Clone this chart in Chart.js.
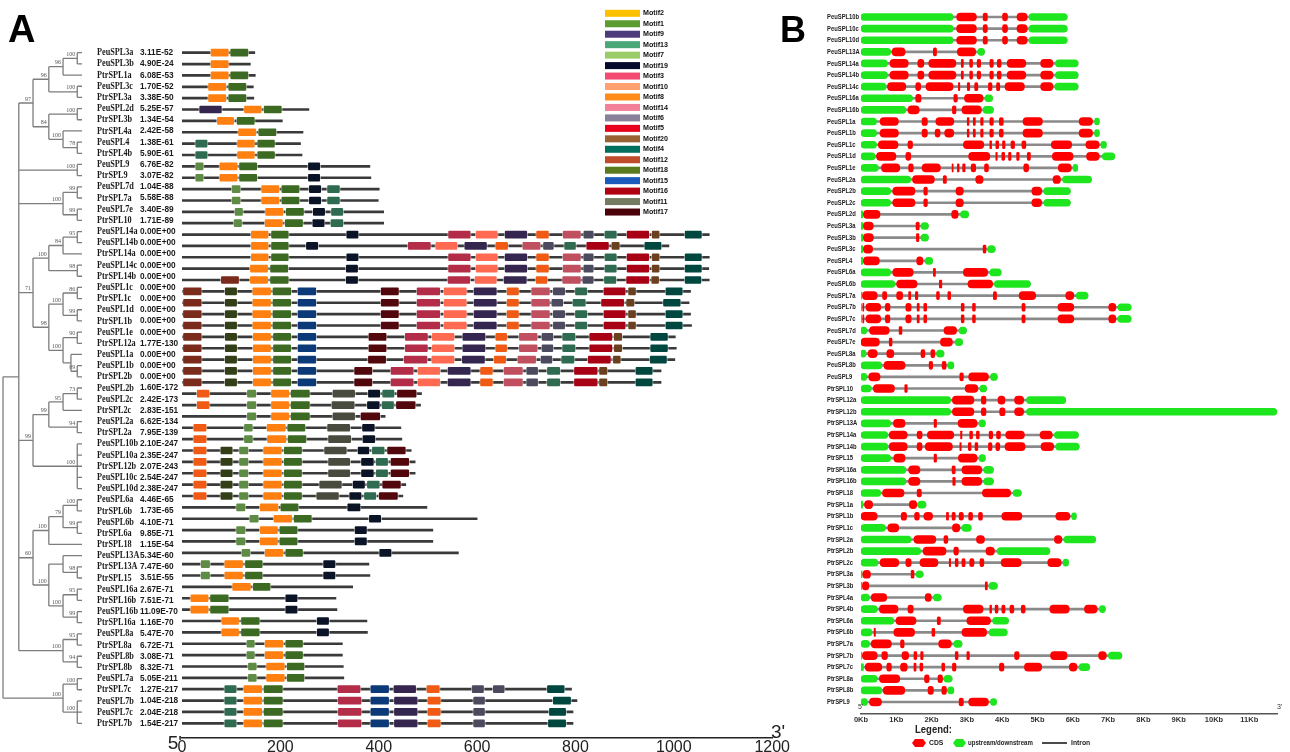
<!DOCTYPE html>
<html>
<head>
<meta charset="utf-8">
<script src="https://cdn.jsdelivr.net/npm/chart.js@4.4.0/dist/chart.umd.min.js"></script>
<style>
  html, body { margin: 0; padding: 0; background: #fff; width: 1290px; height: 752px; overflow: hidden; }
  #wrapA { position: absolute; left: 0; top: 0; width: 790px; height: 760px; }
  #wrapB { position: absolute; left: 770px; top: 0; width: 520px; height: 752px; }
</style>
</head>
<body>
<div id="wrapA"><canvas id="motifChart" width="790" height="760"></canvas></div>
<div id="wrapB"><canvas id="geneChart" width="520" height="752"></canvas></div>
<script>
// ---------- Panel A data ----------
// leaves of the tree, top to bottom
const treeLeaves = ['PeuSPL3a','PeuSPL3b','PtrSPL1a','PeuSPL3c','PtrSPL3a','PeuSPL2d','PtrSPL3b','PtrSPL4a','PeuSPL4','PtrSPL4b',
  'PeuSPL9','PtrSPL9','PeuSPL7d','PtrSPL7a','PeuSPL7e','PtrSPL10','PeuSPL14a','PeuSPL14b','PtrSPL14a','PeuSPL14c',
  'PtrSPL14b','PeuSPL1c','PtrSPL1c','PeuSPL1d','PtrSPL1b','PeuSPL1e','PtrSPL12a','PeuSPL1a','PeuSPL1b','PtrSPL2b',
  'PeuSPL2b','PeuSPL2c','PtrSPL2c','PeuSPL2a','PtrSPL2a','PeuSPL10b','PeuSPL10a','PtrSPL12b','PeuSPL10c','PeuSPL10d',
  'PeuSPL6a','PtrSPL6b','PeuSPL6b','PtrSPL6a','PtrSPL18','PeuSPL13A','PtrSPL13A','PtrSPL15','PeuSPL16a','PtrSPL16b',
  'PeuSPL16b','PtrSPL16a','PeuSPL8a','PtrSPL8a','PeuSPL8b','PtrSPL8b','PeuSPL7a','PtrSPL7c','PeuSPL7b','PeuSPL7c','PtrSPL7b'];

const eValues = ['3.11E-52','4.90E-24','6.08E-53','1.70E-52','3.38E-50','5.25E-57','1.34E-54','2.42E-58','1.38E-61','5.90E-61',
  '6.76E-82','3.07E-82','1.04E-88','5.58E-88','3.40E-89','1.71E-89','0.00E+00','0.00E+00','0.00E+00','0.00E+00',
  '0.00E+00','0.00E+00','0.00E+00','0.00E+00','0.00E+00','0.00E+00','1.77E-130','0.00E+00','0.00E+00','0.00E+00',
  '1.60E-172','2.42E-173','2.83E-151','6.62E-134','7.95E-139','2.10E-247','2.35E-247','2.07E-243','2.54E-247','2.38E-247',
  '4.46E-65','1.73E-65','4.10E-71','9.85E-71','1.15E-54','5.34E-60','7.47E-60','3.51E-55','2.67E-71','7.51E-71',
  '11.09E-70','1.16E-70','5.47E-70','6.72E-71','3.08E-71','8.32E-71','5.05E-211','1.27E-217','1.04E-218','2.04E-218','1.54E-217'];

// tree nodes: [id, depth (0 = root, 1 = tips), bootstrap, children...]
const treeNodes = [
  ['n1', 0.94, '100', 'PeuSPL3a', 'PeuSPL3b'],
  ['n2', 0.76, '96', 'n1', 'PtrSPL1a'],
  ['n3', 0.94, '100', 'PeuSPL3c', 'PtrSPL3a'],
  ['n4', 0.58, '96', 'n2', 'n3'],
  ['n5', 0.94, '100', 'PeuSPL2d', 'PtrSPL3b'],
  ['n6', 0.94, '78', 'PeuSPL4', 'PtrSPL4b'],
  ['n7', 0.76, '100', 'PtrSPL4a', 'n6'],
  ['n8', 0.58, '84', 'n5', 'n7'],
  ['n9', 0.38, '97', 'n4', 'n8'],
  ['n10', 0.94, '100', 'PeuSPL9', 'PtrSPL9'],
  ['n11', 0.94, '99', 'PeuSPL7d', 'PtrSPL7a'],
  ['n12', 0.94, '99', 'PeuSPL7e', 'PtrSPL10'],
  ['n13', 0.76, '100', 'n11', 'n12'],
  ['n14', 0.94, '95', 'PeuSPL14a', 'PeuSPL14b'],
  ['n15', 0.76, '84', 'n14', 'PtrSPL14a'],
  ['n16', 0.94, '98', 'PeuSPL14c', 'PtrSPL14b'],
  ['n17', 0.58, '100', 'n15', 'n16'],
  ['n18', 0.94, '86', 'PeuSPL1c', 'PtrSPL1c'],
  ['n19', 0.94, '99', 'PeuSPL1d', 'PtrSPL1b'],
  ['n20', 0.76, '100', 'n18', 'n19'],
  ['n21', 0.94, '90', 'PeuSPL1e', 'PtrSPL12a'],
  ['n22', 0.94, '89', 'PeuSPL1b', 'PtrSPL2b'],
  ['n23', 0.86, '', 'PeuSPL1a', 'n22'],
  ['n24', 0.76, '100', 'n21', 'n23'],
  ['n25', 0.58, '98', 'n20', 'n24'],
  ['n26', 0.38, '71', 'n17', 'n25'],
  ['n27', 0.94, '73', 'PeuSPL2b', 'PeuSPL2c'],
  ['n28', 0.76, '95', 'n27', 'PtrSPL2c'],
  ['n29', 0.94, '94', 'PeuSPL2a', 'PtrSPL2a'],
  ['n30', 0.58, '99', 'n28', 'n29'],
  ['n31', 0.94, '100', 'PeuSPL10b', 'PeuSPL10a', 'PtrSPL12b', 'PeuSPL10c', 'PeuSPL10d'],
  ['n32', 0.38, '99', 'n30', 'n31'],
  ['n33', 0.94, '100', 'PeuSPL6a', 'PtrSPL6b'],
  ['n34', 0.94, '99', 'PeuSPL6b', 'PtrSPL6a'],
  ['n35', 0.76, '79', 'n33', 'n34'],
  ['n36', 0.58, '100', 'n35', 'PtrSPL18'],
  ['n37', 0.94, '98', 'PtrSPL13A', 'PtrSPL15'],
  ['n38', 0.76, '', 'PeuSPL13A', 'n37'],
  ['n39', 0.94, '95', 'PeuSPL16a', 'PtrSPL16b'],
  ['n40', 0.94, '99', 'PeuSPL16b', 'PtrSPL16a'],
  ['n41', 0.76, '100', 'n39', 'n40'],
  ['n42', 0.58, '100', 'n38', 'n41'],
  ['n43', 0.38, '60', 'n36', 'n42'],
  ['n44', 0.94, '95', 'PeuSPL8a', 'PtrSPL8a'],
  ['n45', 0.94, '94', 'PeuSPL8b', 'PtrSPL8b'],
  ['n46', 0.76, '100', 'n44', 'n45'],
  ['n47', 0.20, '', 'n9', 'n10', 'n13', 'n26', 'n32', 'n43', 'n46'],
  ['n48', 0.94, '100', 'PeuSPL7a', 'PtrSPL7c'],
  ['n49', 0.94, '100', 'PeuSPL7b', 'PeuSPL7c', 'PtrSPL7b'],
  ['n50', 0.76, '100', 'n48', 'n49'],
  ['root', 0, '', 'n47', 'n50']
];

// rows of the motif diagram (one row fewer than the tree)
const motifGenes = treeLeaves.filter(g => g !== 'PeuSPL7a');

// protein lengths (aa)
const proteinLength = [148,139,149,145,146,258,204,246,241,244,
  382,384,401,399,410,410,1072,990,1072,1071,
  1072,1034,1031,1034,1036,1003,1005,1002,974,974,
  487,485,413,445,447,466,474,474,455,449,
  498,600,510,510,562,380,382,347,313,315,
  376,377,326,326,328,329,792,803,795,795];

// motif blocks per row: motif number, start, end, ...
const motifBlocks = [
  [8,57,96, 1,97,136],
  [8,57,96],
  [8,57,96, 1,97,136],
  [8,52,91, 1,93,132],
  [8,52,91, 1,93,132],
  [9,34,82, 8,125,163, 1,165,204],
  [8,70,107, 1,110,149],
  [8,113,152, 1,154,193],
  [13,26,53, 8,111,149, 1,152,190],
  [13,26,53, 8,111,149, 1,152,190],
  [7,26,45, 8,75,114, 1,115,154, 19,255,282],
  [7,26,45, 8,75,114, 1,115,154, 19,255,282],
  [7,100,120, 8,160,199, 1,201,240, 19,257,284, 13,294,322],
  [7,100,120, 8,160,199, 1,201,240, 19,257,284, 13,294,322],
  [7,106,125, 8,168,207, 1,210,249, 19,265,292, 13,302,329],
  [7,104,123, 8,167,206, 1,208,247, 19,264,291, 13,301,329],
  [8,139,177, 1,180,218, 19,333,360, 3,540,588, 10,596,643, 9,655,703, 5,719,747, 14,773,812, 6,815,838, 13,858,885, 16,903,951, 20,954,972, 4,1021,1058],
  [8,139,177, 1,180,218, 19,251,278, 3,458,507, 10,514,561, 9,573,621, 5,636,664, 14,691,730, 6,733,757, 13,776,802, 16,821,869, 20,872,891, 4,939,976],
  [8,139,177, 1,180,218, 19,333,360, 3,540,588, 10,596,643, 9,655,703, 5,719,747, 14,773,812, 6,815,838, 13,858,885, 16,903,951, 20,954,972, 4,1021,1058],
  [8,137,176, 1,178,217, 19,332,359, 3,540,588, 10,596,643, 9,655,703, 5,719,747, 14,773,812, 6,815,838, 13,858,885, 16,903,951, 20,954,972, 4,1021,1058],
  [12,78,117, 8,137,176, 1,178,218, 19,332,359, 3,539,587, 10,594,641, 9,653,702, 5,718,744, 14,772,812, 6,813,838, 13,857,884, 16,902,951, 20,953,971, 4,1021,1057],
  [12,1,41, 18,86,113, 8,142,182, 1,183,223, 15,234,274, 17,403,442, 3,476,526, 10,531,580, 9,592,641, 5,659,686, 14,709,749, 6,753,780, 13,798,825, 16,856,903, 20,906,924, 4,982,1019],
  [12,1,41, 18,86,113, 8,142,182, 1,183,223, 15,234,274, 17,403,442, 3,476,526, 10,531,580, 9,592,641, 5,659,686, 14,709,749, 6,750,776, 13,793,822, 16,851,900, 20,902,921, 4,977,1015],
  [12,1,41, 18,86,113, 8,142,182, 1,183,223, 15,234,274, 17,403,442, 3,476,526, 10,531,580, 9,592,641, 5,659,686, 14,709,749, 6,753,780, 13,798,825, 16,856,903, 20,906,924, 4,982,1019],
  [12,1,41, 18,86,113, 8,142,182, 1,183,223, 15,234,274, 17,403,442, 3,476,526, 10,531,580, 9,592,641, 5,659,686, 14,709,749, 6,753,780, 13,798,825, 16,856,903, 20,906,924, 4,982,1019],
  [12,1,41, 18,86,113, 8,143,182, 1,184,223, 15,234,274, 17,378,417, 3,452,501, 10,507,555, 9,569,618, 5,636,662, 14,684,724, 6,730,756, 13,772,801, 16,827,876, 20,877,896, 4,951,989],
  [12,1,41, 18,86,113, 8,143,182, 1,184,223, 15,234,274, 17,378,417, 3,452,501, 10,507,555, 9,569,618, 5,636,662, 14,684,724, 6,730,756, 13,772,801, 16,827,876, 20,877,896, 4,951,989],
  [12,1,41, 18,86,113, 8,143,182, 1,184,223, 15,234,274, 17,377,416, 3,450,500, 10,506,555, 9,568,617, 5,633,660, 14,681,721, 6,728,754, 13,770,799, 16,824,873, 20,875,893, 4,950,987],
  [12,1,41, 18,86,113, 8,143,182, 1,184,223, 15,234,274, 17,349,388, 3,423,472, 10,478,526, 9,539,588, 5,605,633, 14,653,694, 6,699,725, 13,741,770, 16,796,846, 20,847,866, 4,921,958],
  [12,1,41, 18,86,113, 8,143,182, 1,184,223, 15,234,274, 17,349,388, 3,423,472, 10,478,526, 9,539,588, 5,605,633, 14,653,694, 6,699,725, 13,741,770, 16,796,846, 20,847,866, 4,921,958],
  [5,29,57, 7,131,152, 8,180,219, 1,220,261, 11,305,353, 19,377,404, 13,406,433, 17,436,478],
  [5,29,57, 7,131,152, 8,180,219, 1,220,261, 11,303,352, 19,375,403, 13,405,432, 17,434,476],
  [7,131,152, 8,180,219, 1,220,261, 11,305,353, 17,362,404],
  [5,22,51, 7,125,145, 8,171,212, 1,213,252, 11,294,343, 19,365,393],
  [5,22,51, 7,125,145, 8,172,213, 1,214,254, 11,296,345, 19,366,394],
  [5,22,51, 18,77,104, 7,115,136, 8,164,204, 1,206,245, 11,288,336, 19,356,382, 13,385,413, 17,416,456],
  [5,22,51, 18,77,104, 7,115,136, 8,164,204, 1,206,245, 11,296,343, 19,363,391, 13,393,420, 17,423,463],
  [5,22,51, 18,77,104, 7,115,136, 8,164,204, 1,206,245, 11,296,343, 19,363,391, 13,393,420, 17,423,463],
  [5,22,51, 18,77,104, 7,115,136, 8,164,204, 1,206,245, 11,278,326, 19,346,373, 13,375,403, 17,406,446],
  [5,22,51, 18,77,104, 7,115,136, 8,164,204, 1,206,245, 11,272,320, 19,339,366, 13,369,396, 17,399,440],
  [7,109,130, 8,157,197, 1,199,238, 19,335,364],
  [7,136,157, 8,185,225, 1,226,265, 19,379,406],
  [7,109,130, 8,157,196, 1,197,236, 19,350,377],
  [7,109,130, 8,157,196, 1,197,236, 19,350,377],
  [7,120,140, 8,167,207, 1,209,247, 19,400,427],
  [7,37,58, 8,85,125, 1,127,165, 19,286,313],
  [7,37,58, 8,85,125, 1,127,165, 19,286,313],
  [8,101,141, 1,143,181],
  [8,16,55, 1,56,96, 19,209,236],
  [8,16,55, 1,56,96, 19,209,236],
  [8,79,117, 1,119,159, 19,273,300],
  [8,79,117, 1,119,159, 19,273,300],
  [7,130,149, 8,167,207, 1,209,247],
  [7,130,149, 8,167,207, 1,209,247],
  [7,133,153, 8,170,210, 1,212,250],
  [7,133,153, 8,170,210, 1,212,250],
  [13,85,112, 8,124,164, 1,165,206, 3,315,364, 15,382,422, 9,429,477, 5,496,525, 6,588,615, 6,631,657, 4,741,779],
  [13,85,112, 8,124,164, 1,165,206, 3,316,366, 15,382,422, 9,430,480, 5,498,527, 6,591,617, 4,753,792],
  [13,85,112, 8,124,164, 1,165,206, 3,316,366, 15,382,422, 9,430,480, 5,498,527, 6,591,617, 4,745,782],
  [13,85,112, 8,124,164, 1,165,206, 3,316,366, 15,382,422, 9,430,480, 5,498,527, 6,591,617, 4,743,782]
];

const legendOrder = [2,1,9,13,7,19,3,10,8,14,6,5,20,4,12,18,15,16,11,17];
const axisTicksA = [0, 200, 400, 600, 800, 1000, 1200];

// ---------- Panel B data ----------
const structGenes = ['PeuSPL10b','PeuSPL10c','PeuSPL10d','PeuSPL13A','PeuSPL14a','PeuSPL14b','PeuSPL14c','PeuSPL16a','PeuSPL16b','PeuSPL1a',
  'PeuSPL1b','PeuSPL1c','PeuSPL1d','PeuSPL1e','PeuSPL2a','PeuSPL2b','PeuSPL2c','PeuSPL2d','PeuSPL3a','PeuSPL3b',
  'PeuSPL3c','PeuSPL4','PeuSPL6a','PeuSPL6b','PeuSPL7a','PeuSPL7b','PeuSPL7c','PeuSPL7d','PeuSPL7e','PeuSPL8a',
  'PeuSPL8b','PeuSPL9','PtrSPL10','PtrSPL12a','PtrSPL12b','PtrSPL13A','PtrSPL14a','PtrSPL14b','PtrSPL15','PtrSPL16a',
  'PtrSPL16b','PtrSPL18','PtrSPL1a','PtrSPL1b','PtrSPL1c','PtrSPL2a','PtrSPL2b','PtrSPL2c','PtrSPL3a','PtrSPL3b',
  'PtrSPL4a','PtrSPL4b','PtrSPL6a','PtrSPL6b','PtrSPL7a','PtrSPL7b','PtrSPL7c','PtrSPL8a','PtrSPL8b','PtrSPL9'];

// upstream/downstream parts (Kb): gene, start, end, ...
const utrParts = [
  ['PeuSPL10b',0,2.61,4.76,5.84], ['PeuSPL10c',0,2.61,4.76,5.84], ['PeuSPL10d',0,2.61,4.76,5.84],
  ['PeuSPL13A',0,0.84,3.31,3.50], ['PeuSPL14a',0,0.75,5.51,6.15], ['PeuSPL14b',0,0.75,5.51,6.15],
  ['PeuSPL14c',0,0.71,5.49,6.15], ['PeuSPL16a',0,1.46,3.51,3.73], ['PeuSPL16b',0,1.27,3.46,3.75],
  ['PeuSPL1a',0,0.44,6.62,6.75], ['PeuSPL1b',0,0.44,6.62,6.75], ['PeuSPL1c',0,0.44,6.80,6.95],
  ['PeuSPL1d',0,0.40,6.84,7.19], ['PeuSPL1e',0,0.49,6.01,6.14], ['PeuSPL2a',0,1.41,5.71,6.53],
  ['PeuSPL2b',0,0.84,5.18,5.93], ['PeuSPL2c',0,0.84,5.18,5.93], ['PeuSPL2d',0,0.05,2.82,3.05],
  ['PeuSPL3a',0,0.06,1.70,1.91], ['PeuSPL3b',0,0.06,1.70,1.91], ['PeuSPL3c',0,0.05,3.59,3.80],
  ['PeuSPL4',0,0.05,1.82,2.03], ['PeuSPL6a',0,0.84,3.65,3.97], ['PeuSPL6b',0,0.96,3.78,4.80],
  ['PeuSPL7a',0,0.02,6.10,6.43], ['PeuSPL7b',0,0.02,7.28,7.65], ['PeuSPL7c',0,0.02,7.28,7.65],
  ['PeuSPL7d',0,0.16,2.78,2.99], ['PeuSPL7e',2.67,2.88], ['PeuSPL8a',0,0.14,2.14,2.35],
  ['PeuSPL8b',0,0.59,2.46,2.63], ['PeuSPL9',0,0.16,3.67,3.86], ['PtrSPL10',0,0.29,3.37,3.56],
  ['PtrSPL12a',0,2.54,4.69,5.80], ['PtrSPL12b',0,2.54,4.69,11.78], ['PtrSPL13A',0,0.84,3.35,3.52],
  ['PtrSPL14a',0,0.76,5.48,6.16], ['PtrSPL14b',0,0.76,5.52,6.18], ['PtrSPL15',0,0.84,3.35,3.52],
  ['PtrSPL16a',0,1.27,3.48,3.75], ['PtrSPL16b',0,1.27,3.48,3.75], ['PtrSPL18',0,0.56,4.31,4.54],
  ['PtrSPL1a',0,0.05,1.61,1.84], ['PtrSPL1b',5.97,6.10], ['PtrSPL1c',0,0.69,2.86,3.12],
  ['PtrSPL2a',0,1.42,5.75,6.65], ['PtrSPL2b',0,1.69,3.86,5.35], ['PtrSPL2c',0,0.48,5.73,5.88],
  ['PtrSPL3a',0,0.03,1.56,1.76], ['PtrSPL3b',0,0.02,3.63,3.86], ['PtrSPL4a',0,0.24,2.05,2.27],
  ['PtrSPL4b',0,0.46,6.76,6.92], ['PtrSPL6a',0,0.93,3.73,4.18], ['PtrSPL6b',0,0.31,3.63,4.14],
  ['PtrSPL7a',0,0.24,2.63,2.86], ['PtrSPL7b',0,0.02,7.01,7.39], ['PtrSPL7c',0,0.07,6.18,6.48],
  ['PtrSPL8a',0,0.46,2.35,2.58], ['PtrSPL8b',0,0.59,2.46,2.63], ['PtrSPL9',0,0.18,3.67,3.84]
];

// CDS parts (Kb): gene, start, end, ...
const cdsParts = [
  ['PeuSPL10b',2.71,3.27,3.46,3.58,4.01,4.15,4.42,4.71],
  ['PeuSPL10c',2.71,3.27,3.46,3.58,4.01,4.15,4.42,4.71],
  ['PeuSPL10d',2.71,3.27,3.46,3.58,4.01,4.15,4.42,4.71],
  ['PeuSPL13A',0.88,1.25,2.05,2.14,2.73,3.25],
  ['PeuSPL14a',0.82,1.34,1.61,1.78,1.92,2.69,2.84,2.90,3.08,3.16,3.29,3.39,3.65,3.75,3.86,3.97,4.14,4.67,5.09,5.44],
  ['PeuSPL14b',0.82,1.34,1.61,1.78,1.92,2.69,2.84,2.90,3.08,3.16,3.29,3.39,3.65,3.75,3.86,3.97,4.14,4.67,5.09,5.44],
  ['PeuSPL14c',0.75,1.27,1.55,1.69,1.84,2.61,2.76,2.80,3.01,3.08,3.22,3.31,3.61,3.71,3.84,3.93,4.08,4.63,5.09,5.44],
  ['PeuSPL16a',1.55,1.70,2.63,2.73,2.93,3.46],
  ['PeuSPL16b',1.33,1.65,2.59,2.69,2.86,3.41],
  ['PeuSPL1a',0.54,1.06,1.73,1.88,2.12,2.63,3.01,3.06,3.18,3.24,3.39,3.46,3.65,3.75,3.92,4.03,4.59,5.14,6.18,6.56],
  ['PeuSPL1b',0.54,1.06,1.73,1.88,2.10,2.24,2.37,2.63,3.01,3.06,3.18,3.24,3.39,3.46,3.65,3.75,3.92,4.03,4.59,5.14,6.18,6.56],
  ['PeuSPL1c',0.49,1.05,1.33,1.46,2.90,3.48,3.65,3.70,3.82,3.90,4.01,4.08,4.25,4.35,4.56,4.67,5.39,5.97,6.37,6.75],
  ['PeuSPL1d',0.44,0.99,1.27,1.41,3.05,3.65,3.82,3.86,3.99,4.07,4.18,4.25,4.41,4.48,4.71,4.80,5.42,6.01,6.39,6.75],
  ['PeuSPL1e',0.58,1.10,1.35,1.48,1.73,2.25,2.58,2.61,2.73,2.78,2.88,2.95,3.12,3.25,3.50,3.61,4.61,4.75,5.59,5.96],
  ['PeuSPL2a',1.46,2.08,2.33,2.42,3.25,3.46,5.44,5.65],
  ['PeuSPL2b',0.90,1.53,1.78,1.88,2.69,2.90,4.84,5.12],
  ['PeuSPL2c',0.90,1.53,1.78,1.88,2.69,2.90,4.84,5.12],
  ['PeuSPL2d',0.07,0.54,2.57,2.75],
  ['PeuSPL3a',0.07,0.35,1.56,1.65],
  ['PeuSPL3b',0.07,0.35,1.57,1.64],
  ['PeuSPL3c',0.07,0.33,3.46,3.54],
  ['PeuSPL4',0.07,0.52,1.58,1.75],
  ['PeuSPL6a',0.90,1.48,2.05,2.11,2.90,3.59],
  ['PeuSPL6b',1.01,1.59,2.22,2.29,3.03,3.73],
  ['PeuSPL7a',0.04,0.46,0.61,0.73,1.01,1.18,1.35,1.41,1.54,1.61,2.14,2.22,2.46,2.54,3.75,3.84,4.48,4.95,5.80,6.03],
  ['PeuSPL7b',0.05,0.08,0.14,0.56,0.69,0.82,1.27,1.42,1.59,1.65,1.78,1.86,2.84,2.92,3.16,3.24,4.56,4.65,5.58,6.03,7.02,7.22],
  ['PeuSPL7c',0.05,0.08,0.14,0.56,0.69,0.82,1.27,1.42,1.59,1.65,1.78,1.86,2.84,2.92,3.16,3.24,4.56,4.65,5.58,6.03,7.02,7.22],
  ['PeuSPL7d',0.24,0.80,1.08,1.16,2.35,2.71],
  ['PeuSPL7e',0,0.52,0.80,0.88,2.25,2.59],
  ['PeuSPL8a',0.20,0.46,0.73,0.93,1.70,1.81,1.98,2.09],
  ['PeuSPL8b',0.65,1.25,1.93,2.03,2.30,2.41],
  ['PeuSPL9',0.22,0.54,2.80,2.90,3.05,3.61],
  ['PtrSPL10',0.35,0.95,1.24,1.31,2.95,3.31],
  ['PtrSPL12a',2.59,3.20,3.41,3.54,3.88,4.08,4.35,4.61],
  ['PtrSPL12b',2.59,3.20,3.41,3.54,3.93,4.08,4.35,4.61],
  ['PtrSPL13A',0.92,1.25,2.07,2.14,2.75,3.29],
  ['PtrSPL14a',0.80,1.31,1.59,1.73,1.88,2.63,2.82,2.86,3.08,3.16,3.27,3.35,3.63,3.73,3.84,3.95,4.10,4.63,5.07,5.42],
  ['PtrSPL14b',0.80,1.31,1.59,1.73,1.82,2.59,2.80,2.84,3.04,3.12,3.23,3.31,3.61,3.71,3.82,3.93,4.08,4.65,5.10,5.46],
  ['PtrSPL15',0.93,1.25,2.07,2.14,2.76,3.29],
  ['PtrSPL16a',1.35,1.67,2.58,2.67,2.86,3.42],
  ['PtrSPL16b',1.35,1.67,2.60,2.67,2.86,3.42],
  ['PtrSPL18',0.61,1.22,1.59,1.71,3.44,4.24],
  ['PtrSPL1a',0.10,0.33,1.37,1.58],
  ['PtrSPL1b',0,0.46,1.14,1.29,1.52,1.65,1.78,2.03,2.42,2.48,2.58,2.67,2.78,2.90,3.05,3.16,3.33,3.44,3.99,4.56,5.52,5.92],
  ['PtrSPL1c',0.76,1.07,2.59,2.80],
  ['PtrSPL2a',1.50,2.12,2.35,2.46,3.27,3.50,5.48,5.69],
  ['PtrSPL2b',1.76,2.41,2.63,2.76,3.54,3.78],
  ['PtrSPL2c',0.54,1.07,1.27,1.42,1.67,2.18,2.50,2.54,2.67,2.75,2.86,2.95,3.08,3.20,3.37,3.48,3.97,4.54,5.29,5.67],
  ['PtrSPL3a',0.05,0.27,1.42,1.50],
  ['PtrSPL3b',0.04,0.22,3.52,3.58],
  ['PtrSPL4a',0.29,0.73,1.82,1.99],
  ['PtrSPL4b',0.52,1.05,1.33,1.48,2.90,3.46,3.65,3.70,3.80,3.88,3.99,4.08,4.22,4.33,4.54,4.65,5.35,5.90,6.33,6.69],
  ['PtrSPL6a',0.99,1.56,2.16,2.25,3.00,3.67],
  ['PtrSPL6b',0.37,0.41,0.93,1.52,2.01,2.09,2.86,3.56],
  ['PtrSPL7a',0.29,0.86,1.12,1.22,2.20,2.56],
  ['PtrSPL7b',0.04,0.46,0.59,0.75,1.16,1.35,1.50,1.58,1.69,1.76,2.67,2.75,3.00,3.07,4.35,4.48,5.37,5.84,6.73,6.95],
  ['PtrSPL7c',0.12,0.59,0.73,0.86,1.12,1.31,1.50,1.56,1.67,1.75,2.29,2.37,2.59,2.69,3.92,4.05,4.63,5.12,5.90,6.12],
  ['PtrSPL8a',0.52,1.10,1.80,1.93,2.18,2.31],
  ['PtrSPL8b',0.63,1.24,1.90,2.05,2.29,2.42],
  ['PtrSPL9',0.24,0.58,2.78,2.90,3.05,3.61]
];

// ---------- styles ----------
const blockColor = {
  Motif1: '#3d6a22', Motif2: '#ffc000', Motif3: '#b32d48', Motif4: '#00473f', Motif5: '#f05a14',
  Motif6: '#4b4a5f', Motif7: '#5f8c45', Motif8: '#ff8011', Motif9: '#34264e', Motif10: '#ff6b52',
  Motif11: '#4a4b3f', Motif12: '#7a2b1c', Motif13: '#2e6b50', Motif14: '#c0505f', Motif15: '#0c3a78',
  Motif16: '#a80015', Motif17: '#52070c', Motif18: '#333f16', Motif19: '#0b1326', Motif20: '#6a401f'
};
const legendColor = {
  Motif2: '#ffc000', Motif1: '#5c9c30', Motif9: '#4e3b7c', Motif13: '#4aa878', Motif7: '#9ccc6a',
  Motif19: '#050a2a', Motif3: '#f24a70', Motif10: '#ffa070', Motif8: '#ff8c1a', Motif14: '#f28098',
  Motif6: '#8a8099', Motif5: '#e8001c', Motif20: '#9a6232', Motif4: '#00705e', Motif12: '#c04a2c',
  Motif18: '#5a7a20', Motif15: '#1a5abc', Motif16: '#b00012', Motif11: '#737c62', Motif17: '#4a0008'
};
const NARROW = "'Liberation Sans Narrow', 'Liberation Sans', Arial, sans-serif";

function drawText(ctx, txt, x, y, font, color, align, sx) {
  ctx.save();
  ctx.font = font;
  ctx.fillStyle = color;
  ctx.textAlign = align || 'left';
  ctx.textBaseline = 'middle';
  ctx.translate(x, y);
  ctx.scale(sx || 1, 1);
  ctx.fillText(txt, 0, 0);
  ctx.restore();
}

// row placement helpers (top/bottom of plot area and first/last row centre, px)
function rowRange(n, areaTop, areaBottom, firstPx, lastPx) {
  const step = (lastPx - firstPx) / (n - 1);
  const min = -(firstPx - areaTop) / step;
  return { min: min, max: min + (areaBottom - areaTop) / step };
}

// ---------- Panel A chart ----------
const A_TOP = 47, A_BOTTOM = 738;
const motifRange = rowRange(motifGenes.length, A_TOP, A_BOTTOM, 52.7, 723.3);
const leafRange = rowRange(treeLeaves.length, A_TOP, A_BOTTOM, 52.7, 723.3);

const motifData = {};
motifBlocks.forEach((blocks, row) => {
  for (let k = 0; k < blocks.length; k += 3) {
    const id = 'Motif' + blocks[k];
    (motifData[id] = motifData[id] || []).push({ x: [blocks[k + 1], blocks[k + 2]], y: row });
  }
});

const datasetsA = [{
  label: 'protein',
  data: proteinLength.map((len, i) => ({ x: [0, len], y: i })),
  backgroundColor: '#3a3a3a',
  barThickness: 2,
  borderWidth: 0,
  order: 10,
  xAxisID: 'x', yAxisID: 'ym'
}].concat(Object.keys(motifData).map(id => ({
  label: id,
  data: motifData[id],
  backgroundColor: blockColor[id],
  borderColor: 'rgba(255,255,255,0.55)',
  borderWidth: 1,
  borderRadius: 2,
  borderSkipped: false,
  barThickness: 9,
  order: 0,
  xAxisID: 'x', yAxisID: 'ym'
})));

const treePlugin = {
  id: 'treeAndLabels',
  afterDraw(chart) {
    const ctx = chart.ctx;
    const yl = chart.scales.yl;
    const TREE_X0 = 3, TIP_X = 82;
    const pos = {};
    treeLeaves.forEach((name, i) => { pos[name] = { x: TIP_X, y: yl.getPixelForValue(i) }; });

    ctx.save();
    ctx.strokeStyle = '#7d7d7d';
    ctx.lineWidth = 1.3;
    treeNodes.forEach(([id, depth, bs, ...kids]) => {
      const x = TREE_X0 + depth * (TIP_X - TREE_X0);
      const y0 = pos[kids[0]].y, y1 = pos[kids[kids.length - 1]].y;
      pos[id] = { x: x, y: (y0 + y1) / 2 };
      ctx.beginPath();
      ctx.moveTo(x, y0); ctx.lineTo(x, y1);
      kids.forEach(k => { ctx.moveTo(x, pos[k].y); ctx.lineTo(pos[k].x, pos[k].y); });
      ctx.stroke();
      if (bs) drawText(ctx, bs, x - 2, pos[id].y - 4, '6px "Liberation Serif"', '#555', 'right');
    });
    ctx.restore();

    // gene names and E-values
    treeLeaves.forEach((name, i) => {
      const y = yl.getPixelForValue(i);
      drawText(ctx, name, 97, y, 'bold 10px "Liberation Serif"', '#1a1a1a', 'left', 0.82);
      drawText(ctx, eValues[i], 140, y, 'bold 9px "Liberation Sans"', '#1a1a1a', 'left', 0.92);
    });

    // motif legend
    legendOrder.forEach((m, i) => {
      const id = 'Motif' + m;
      const y = 13.3 + i * 10.46;
      ctx.fillStyle = legendColor[id];
      ctx.fillRect(605, y - 3.5, 35, 7);
      drawText(ctx, id, 643, y, 'bold 7.5px "Liberation Sans"', '#111', 'left', 0.95);
    });

    // 5' / 3' ends and panel letter
    drawText(ctx, "5'", 182, 744, '19px ' + NARROW, '#222', 'right');
    drawText(ctx, "3'", 771, 733, '19px ' + NARROW, '#222', 'left');
    drawText(ctx, 'A', 8, 32, 'bold 38px "Liberation Sans"', '#000', 'left');
  }
};

new Chart(document.getElementById('motifChart'), {
  type: 'bar',
  data: { datasets: datasetsA },
  options: {
    indexAxis: 'y',
    responsive: false,
    animation: false,
    events: [],
    layout: { padding: { left: 182, right: 16, top: A_TOP, bottom: 0 } },
    datasets: { bar: { grouped: false } },
    plugins: { legend: { display: false }, tooltip: { enabled: false } },
    scales: {
      x: {
        type: 'linear', position: 'bottom', min: 0, max: 1200,
        afterBuildTicks: s => { s.ticks = axisTicksA.map(v => ({ value: v })); },
        afterFit: s => { s.height = 760 - A_BOTTOM; },
        ticks: { color: '#222', padding: 0, font: { family: NARROW, size: 16 }, callback: v => String(v) },
        grid: { display: false, drawTicks: false },
        border: { display: true, color: '#222', width: 1.5 }
      },
      ym: { type: 'linear', reverse: true, offset: false, min: motifRange.min, max: motifRange.max, display: false },
      yl: { type: 'linear', reverse: true, offset: false, min: leafRange.min, max: leafRange.max, display: false }
    }
  },
  plugins: [treePlugin]
});

// ---------- Panel B chart ----------
const B_LEFT = 770, B_TOP = 10, B_BOTTOM = 714;
const geneRange = rowRange(structGenes.length, B_TOP, B_BOTTOM, 17, 702);

const extent = {};
function collect(parts) {
  const out = [];
  parts.forEach(([gene, ...v]) => {
    const y = structGenes.indexOf(gene);
    const e = extent[gene] || (extent[gene] = [Infinity, -Infinity]);
    for (let i = 0; i < v.length; i += 2) {
      out.push({ x: [v[i], v[i + 1]], y: y });
      e[0] = Math.min(e[0], v[i]);
      e[1] = Math.max(e[1], v[i + 1]);
    }
  });
  return out;
}
const utrBars = collect(utrParts);
const cdsBars = collect(cdsParts);
const intronBars = structGenes.map((g, i) => ({ x: extent[g], y: i }));

const genePlugin = {
  id: 'geneLabels',
  afterDraw(chart) {
    const ctx = chart.ctx;
    const yb = chart.scales.y;
    structGenes.forEach((g, i) => {
      drawText(ctx, g, 827 - B_LEFT, yb.getPixelForValue(i), 'bold 7.5px "Liberation Sans"', '#222', 'left', 0.78);
    });
    drawText(ctx, "5'", 858 - B_LEFT, 707, '7px "Liberation Sans"', '#333', 'left');
    drawText(ctx, "3'", 1277 - B_LEFT, 707, '7px "Liberation Sans"', '#333', 'left');
    drawText(ctx, 'B', 780 - B_LEFT, 32, 'bold 36px "Liberation Sans"', '#000', 'left');

    // structure legend
    const ly = 743;
    drawText(ctx, 'Legend:', 915 - B_LEFT, 730, 'bold 10px "Liberation Sans"', '#222', 'left', 0.95);
    const pill = (x0, w, color) => {
      ctx.fillStyle = color;
      ctx.beginPath();
      ctx.moveTo(x0, ly); ctx.lineTo(x0 + 3, ly - 4); ctx.lineTo(x0 + w - 3, ly - 4);
      ctx.lineTo(x0 + w, ly); ctx.lineTo(x0 + w - 3, ly + 4); ctx.lineTo(x0 + 3, ly + 4);
      ctx.closePath(); ctx.fill();
    };
    pill(912 - B_LEFT, 14, '#ff0000');
    drawText(ctx, 'CDS', 929 - B_LEFT, ly, 'bold 8px "Liberation Sans"', '#222', 'left', 0.85);
    pill(953 - B_LEFT, 13, '#1ee61e');
    drawText(ctx, 'upstream/downstream', 968 - B_LEFT, ly, 'bold 8px "Liberation Sans"', '#222', 'left', 0.76);
    ctx.fillStyle = '#111';
    ctx.fillRect(1042 - B_LEFT, ly - 0.75, 25, 1.5);
    drawText(ctx, 'Intron', 1071 - B_LEFT, ly, 'bold 8px "Liberation Sans"', '#222', 'left', 0.85);
  }
};

new Chart(document.getElementById('geneChart'), {
  type: 'bar',
  data: {
    datasets: [
      { label: 'Intron', data: intronBars, backgroundColor: '#8a8a8a', barThickness: 2, borderWidth: 0, order: 10 },
      { label: 'upstream/downstream', data: utrBars, backgroundColor: '#1ee61e', barThickness: 7,
        borderRadius: 3.5, borderSkipped: false, order: 1 },
      { label: 'CDS', data: cdsBars, backgroundColor: '#ff0000', barThickness: 8,
        borderRadius: 4, borderSkipped: false, order: 0 }
    ]
  },
  options: {
    indexAxis: 'y',
    responsive: false,
    animation: false,
    events: [],
    layout: { padding: { left: 861 - B_LEFT, right: 520 - (1277.5 - B_LEFT), top: B_TOP, bottom: 0 } },
    datasets: { bar: { grouped: false } },
    plugins: { legend: { display: false }, tooltip: { enabled: false } },
    scales: {
      x: {
        type: 'linear', position: 'bottom', min: 0, max: 11.8,
        afterFit: s => { s.height = 752 - B_BOTTOM; },
        ticks: { stepSize: 1, includeBounds: false, padding: 1, color: '#333',
                 font: { family: NARROW, size: 7.5, weight: 'bold' }, callback: v => v + 'Kb' },
        grid: { display: false, drawTicks: false },
        border: { display: true, color: '#555', width: 1.5 }
      },
      y: { type: 'linear', reverse: true, offset: false, min: geneRange.min, max: geneRange.max, display: false }
    }
  },
  plugins: [genePlugin]
});
</script>
</body>
</html>
